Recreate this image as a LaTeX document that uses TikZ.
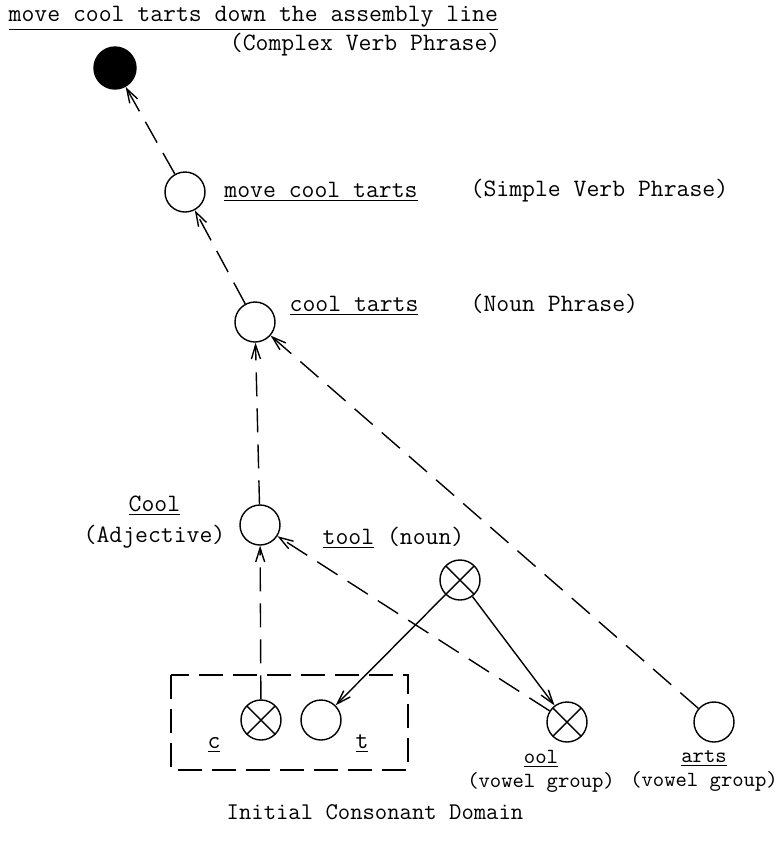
\documentclass[tikz,border=0pt]{standalone}
\usepackage{fontspec}
\usetikzlibrary{arrows.meta,positioning}

\begin{document}
\begin{tikzpicture}[x=0.5pt,y=-0.5pt,line width=0.7pt,
    >={Straight Barb[length=7pt,width=4.5pt]},
    dot/.style={circle,draw,minimum size=20pt,inner sep=0pt},
    xdot/.style={dot,path picture={
        \draw ([shift={(45:12pt)}]path picture bounding box.center) -- ([shift={(225:12pt)}]path picture bounding box.center)
              ([shift={(135:12pt)}]path picture bounding box.center) -- ([shift={(-45:12pt)}]path picture bounding box.center);}},
    lbl/.style={font=\ttfamily\fontsize{12.5}{12.5}\selectfont,inner sep=0pt},
    small/.style={font=\ttfamily\fontsize{10.8}{12}\selectfont,inner sep=0pt,align=center},
    link/.style={->,dash pattern=on 12pt off 6pt}]

                \useasboundingbox (0,0) rectangle (781,843);

                \node[dot,fill=black,minimum size=21pt] (cvp) at (115,68) {};

                \node[dot] (svp) at (185,192) {};

                \node[dot] (np) at (255,322) {};

                \node[dot] (adj) at (260,525) {};

                \node[xdot] (noun) at (460,580) {};

                

                \node[xdot] (c) at (261,720) {};

                \node[dot] (t) at (321,720) {};

                \node[xdot] (ool) at (567,722) {};

                \node[dot] (arts) at (714,722) {};

                

                \node[lbl,anchor=base west] (cvplbl) at (8,21) {\underline{move cool tarts down the assembly line}};

                \node[lbl,anchor=base east] (cvpkind) at (501,50) {(Complex Verb Phrase)};

                \node[lbl,anchor=west] (svplbl) [right=9pt of svp] {\underline{move cool tarts}};

                \node[lbl,anchor=base west] (svpkind) at (470,196) {(Simple Verb Phrase)};

                \node[lbl,anchor=base west] (nplbl) at (289,311) {\underline{cool tarts}};

                \node[lbl,anchor=base west] (npkind) at (470,311) {(Noun Phrase)};

                \node[lbl,align=center,anchor=east] (adjlbl) at (226,522) {\underline{Cool}\\[3pt](Adjective)};

                \node[lbl,anchor=base west] (nounlbl) at (322,544) {\underline{tool} (noun)};

                \node[lbl,anchor=base] (clbl) at (214,748) {\underline{c}};

                \node[lbl,anchor=base] (tlbl) at (362,748) {\underline{t}};

                \node[small,anchor=north] (oollbl) at (541,750) {\underline{ool}\\(vowel group)};

                \node[small,anchor=north] (artslbl) at (704,750) {\underline{arts}\\(vowel group)};

                \node[font=\ttfamily\fontsize{12}{12}\selectfont] (domain) at (375,812) {Initial Consonant Domain};

                

                \draw[dash pattern=on 12pt off 5pt] (171,675) rectangle (408,770);

                

                \foreach \from/\to in {svp/cvp, np/svp, adj/np, arts/np, c/adj, ool/adj}
                    {
                    \draw[link] (\from) -- (\to);
                    }

                \foreach \from/\to in {noun/t, noun/ool}
                    {
                    \draw[->] (\from) -- (\to);
                    }

\end{tikzpicture}
\end{document}
